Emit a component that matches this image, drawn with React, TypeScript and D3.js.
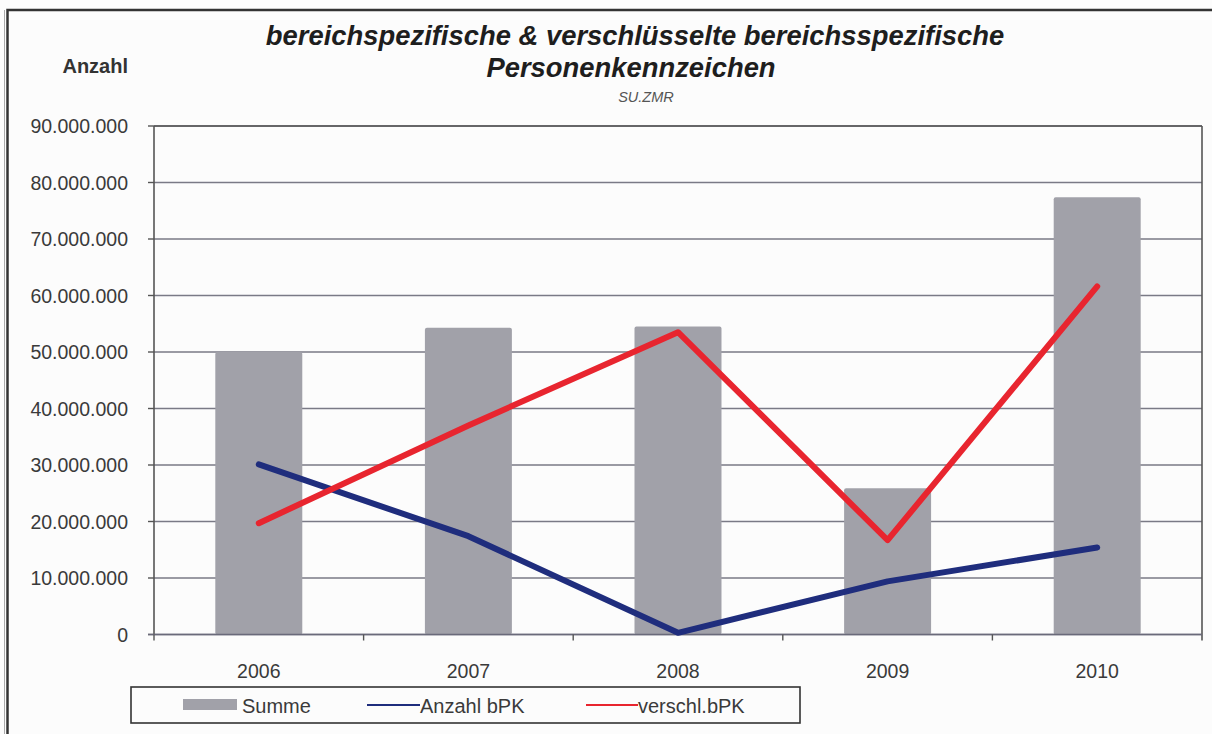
import React from "react";
import * as d3 from "d3";

const years = ["2006", "2007", "2008", "2009", "2010"];
const summe = [50000000, 54300000, 54500000, 25900000, 77400000];
const anzahlBPK = [30100000, 17400000, 300000, 9400000, 15400000];
const verschlBPK = [19700000, 37000000, 53500000, 16700000, 61600000];
const yTicks = [0, 10000000, 20000000, 30000000, 40000000, 50000000, 60000000, 70000000, 80000000, 90000000];

const W = 1212;
const H = 734;
const plot = { left: 154, right: 1202, top: 126, bottom: 634.5 };

const fmt = (v: number) => {
  if (v === 0) return "0";
  return d3.format(",")(v).replace(/,/g, ".");
};

export default function App() {
  const x = d3.scaleBand<string>().domain(years).range([plot.left, plot.right]).paddingInner(0).paddingOuter(0);
  const y = d3.scaleLinear().domain([0, 90000000]).range([plot.bottom, plot.top]);
  const barW = x.bandwidth() * 0.415;
  const cx = (d: string) => (x(d) as number) + x.bandwidth() / 2;

  const line = d3
    .line<number>()
    .x((_, i) => cx(years[i]))
    .y((v) => y(v));

  const font = "'Liberation Sans', Arial, sans-serif";
  const textCol = "#3a3a3a";

  return (
    <svg width={W} height={H} style={{ position: "absolute", left: 0, top: 0, background: "#fcfcfc" }} fontFamily={font}>
      <rect x={0} y={0} width={W} height={H} fill="#fcfcfc" />
      {/* outer frame */}
      <rect x={7.5} y={10} width={1230} height={760} fill="none" stroke="#333" strokeWidth={2.5} />
      <line x1={4.5} x2={4.5} y1={10} y2={H} stroke="#aaa" strokeWidth={1} />

      {/* title */}
      <text x={635} y={45} textAnchor="middle" fontSize={27.4} fontWeight="bold" fontStyle="italic" fill="#1e1e1e">
        bereichspezifische &amp; verschlüsselte bereichsspezifische
      </text>
      <text x={631} y={77} textAnchor="middle" fontSize={27.4} fontWeight="bold" fontStyle="italic" fill="#1e1e1e">
        Personenkennzeichen
      </text>
      <text x={646} y={102} textAnchor="middle" fontSize={14.5} fontStyle="italic" fill="#555">
        SU.ZMR
      </text>
      <text x={128} y={73} textAnchor="end" fontSize={20} fontWeight="bold" fill="#333">
        Anzahl
      </text>

      {/* gridlines */}
      {yTicks.map((t) => (
        <g key={t}>
          <line x1={plot.left} x2={plot.right} y1={y(t)} y2={y(t)} stroke="#7a7a86" strokeWidth={1.4} />
          <line x1={plot.left - 6} x2={plot.left} y1={y(t)} y2={y(t)} stroke="#555" strokeWidth={1.4} />
          <text x={128} y={y(t)} dy="0.36em" textAnchor="end" fontSize={19.5} fill={textCol}>
            {fmt(t)}
          </text>
        </g>
      ))}

      {/* bars */}
      {years.map((yr, i) => (
        <rect
          key={yr}
          x={cx(yr) - barW / 2}
          y={y(summe[i])}
          width={barW}
          height={plot.bottom - y(summe[i])}
          fill="#a1a1a9"
          rx={2}
        />
      ))}

      {/* plot border */}
      <line x1={plot.left} x2={plot.left} y1={plot.top} y2={plot.bottom} stroke="#555" strokeWidth={1.6} />
      <line x1={plot.right} x2={plot.right} y1={plot.top} y2={plot.bottom + 6} stroke="#555" strokeWidth={1.6} />
      <line x1={plot.left} x2={plot.right} y1={plot.top} y2={plot.top} stroke="#555" strokeWidth={1.6} />
      <line x1={plot.left - 6} x2={plot.right} y1={plot.bottom} y2={plot.bottom} stroke="#6a6a7a" strokeWidth={1.6} />

      {/* x ticks */}
      {years.map((yr) => (
        <line key={"t" + yr} x1={x(yr) as number} x2={x(yr) as number} y1={plot.bottom} y2={plot.bottom + 6} stroke="#555" strokeWidth={1.4} />
      ))}
      {years.map((yr) => (
        <text key={"l" + yr} x={cx(yr)} y={678} textAnchor="middle" fontSize={19.5} fill={textCol}>
          {yr}
        </text>
      ))}

      {/* lines */}
      <path d={line(anzahlBPK) as string} fill="none" stroke="#1f2d7d" strokeWidth={6} strokeLinejoin="round" strokeLinecap="round" />
      <path d={line(verschlBPK) as string} fill="none" stroke="#e8252f" strokeWidth={6} strokeLinejoin="round" strokeLinecap="round" />

      {/* legend */}
      <rect x={131} y={687} width={669} height={36} fill="#fcfcfc" stroke="#333" strokeWidth={1.6} />
      <rect x={183} y={699} width={54} height={11} fill="#a1a1a9" />
      <text x={242} y={713} fontSize={20} fill={textCol}>Summe</text>
      <line x1={367} x2={420} y1={705} y2={705} stroke="#1f2d7d" strokeWidth={2.2} />
      <text x={420} y={713} fontSize={20} fill={textCol}>Anzahl bPK</text>
      <line x1={586} x2={638} y1={705} y2={705} stroke="#e8252f" strokeWidth={2.2} />
      <text x={638} y={713} fontSize={20} fill={textCol}>verschl.bPK</text>
    </svg>
  );
}
